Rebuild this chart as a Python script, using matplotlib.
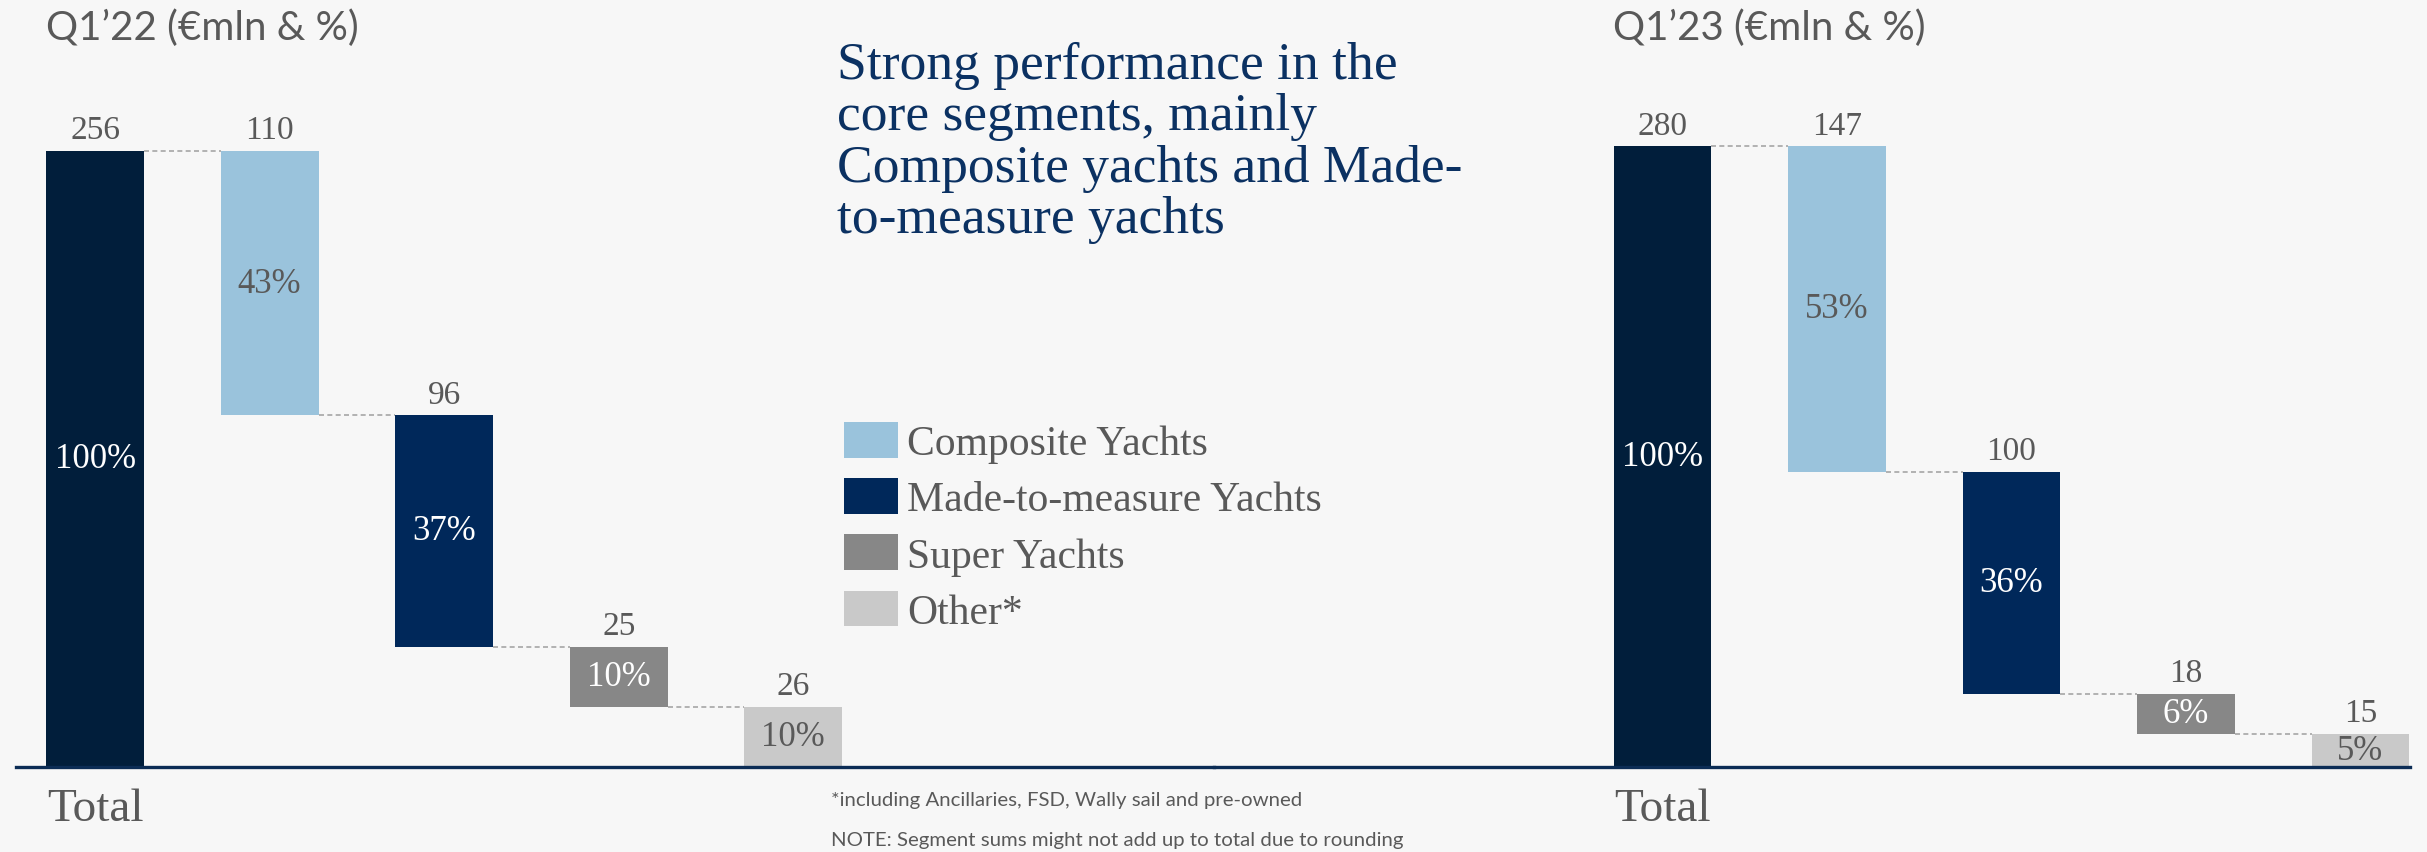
import numpy as np
import matplotlib
matplotlib.use("Agg")
import matplotlib.pyplot as plt
from matplotlib.patches import Patch

# revenue by segment, €mln, and share of total
segments = ["Composite Yachts", "Made-to-measure Yachts", "Super Yachts", "Other*"]
periods = ["Q1\u201922 (\u20acmln & %)", "Q1\u201923 (\u20acmln & %)"]
totals = [256, 280]
values_q122 = [110, 96, 25, 26]
values_q123 = [147, 100, 18, 15]
shares_q122 = [43, 37, 10, 10]
shares_q123 = [53, 36, 6, 5]

headline = ("Strong performance in the\ncore segments, mainly\n"
            "Composite yachts and Made-\nto-measure yachts")
footnote = "*including Ancillaries, FSD, Wally sail and pre-owned"
note = "NOTE: Segment sums might not add up to total due to rounding"

BG = "#f7f7f7"
TOTAL_COLOR = "#011e3b"
SEG_COLORS = ["#9ac3dc", "#00285a", "#878787", "#c9c9c9"]
SHARE_TEXT = ["#595959", "white", "white", "#595959"]
GREY = "#595959"
NAVY = "#0b3162"
SERIF = "Liberation Serif"
SANS = "Lato"
W = 0.56


def draw_panel(ax, total, values, shares, ytop, xlim, line_span):
    values = np.array(values)
    x = np.arange(len(values) + 1)
    tops = total - np.concatenate([[0], np.cumsum(values)[:-1]])
    bottoms = np.maximum(tops - values, 0)

    ax.bar(x[0], total, W, color=TOTAL_COLOR, zorder=2)
    ax.bar(x[1:], tops - bottoms, W, bottom=bottoms, color=SEG_COLORS, zorder=2)

    # dashed steps between the bars
    for j in range(len(values)):
        ax.plot([x[j] + W / 2, x[j + 1] - W / 2], [tops[j], tops[j]],
                color="#a6a6a6", lw=1.2, ls=(0, (3, 2)), zorder=1)

    # value on top of each bar
    for xi, yi, v in zip(x, [total] + list(tops), [total] + list(values)):
        ax.annotate(f"{v}", (xi, yi), xytext=(0, 9), textcoords="offset points",
                    ha="center", va="baseline", fontsize=24, color=GREY,
                    family=SERIF)

    # share inside each bar
    ax.text(x[0], total / 2, "100%", ha="center", va="center", fontsize=25,
            color="white", family=SERIF, zorder=3)
    for j, s in enumerate(shares):
        ax.text(x[j + 1], (tops[j] + bottoms[j]) / 2, f"{s}%", ha="center",
                va="center", fontsize=25, color=SHARE_TEXT[j], family=SERIF,
                zorder=3)

    ax.annotate("Total", (x[0], 0), xytext=(0, -30), textcoords="offset points",
                ha="center", va="center", fontsize=34, color=GREY, family=SERIF,
                annotation_clip=False)

    ax.axhline(0, xmin=line_span[0], xmax=line_span[1], color="#0b2c55",
               lw=2.4, zorder=4, clip_on=False)
    ax.set_xlim(*xlim)
    ax.set_ylim(0, ytop)
    ax.axis("off")


fig = plt.figure(figsize=(24.27, 8.53), dpi=100, facecolor=BG)

ax1 = fig.add_axes([0.0, 0.0998, 0.5, 0.9002])
ax2 = fig.add_axes([0.5, 0.0998, 0.5, 0.9002])
for ax in (ax1, ax2):
    ax.set_facecolor(BG)

draw_panel(ax1, totals[0], values_q122, shares_q122, 319.0,
           (-0.545, 6.408), (0.0128, 1.0))
draw_panel(ax2, totals[1], values_q123, shares_q123, 346.3,
           (-2.572, 4.381), (0.0, 0.986))

fig.text(30 / 1568, 1 - 18 / 551, periods[0], ha="left", va="center",
         fontsize=29, color=GREY, family=SANS)
fig.text(1042 / 1568, 1 - 18 / 551, periods[1], ha="left", va="center",
         fontsize=29, color=GREY, family=SANS)

fig.text(541 / 1568, 1 - 27 / 551, headline, ha="left", va="top",
         fontsize=38.5, color=NAVY, family=SERIF, linespacing=1.09)

handles = [Patch(facecolor=c, edgecolor="none") for c in SEG_COLORS]
fig.legend(handles, segments, loc="upper left",
           bbox_to_anchor=(545 / 1568, 1 - 273 / 551), frameon=False,
           handlelength=1.3, handleheight=0.95,
           handletextpad=0.22, labelspacing=0.36, borderpad=0,
           borderaxespad=0, labelcolor=GREY, prop={"family": SERIF, "size": 30})

fig.text(537 / 1568, 1 - 517 / 551, footnote, ha="left", va="center",
         fontsize=14.7, color=GREY, family=SANS)
fig.text(537 / 1568, 1 - 543 / 551, note, ha="left", va="center",
         fontsize=14.7, color=GREY, family=SANS)

fig.savefig("out.png", dpi=100, facecolor=BG)
